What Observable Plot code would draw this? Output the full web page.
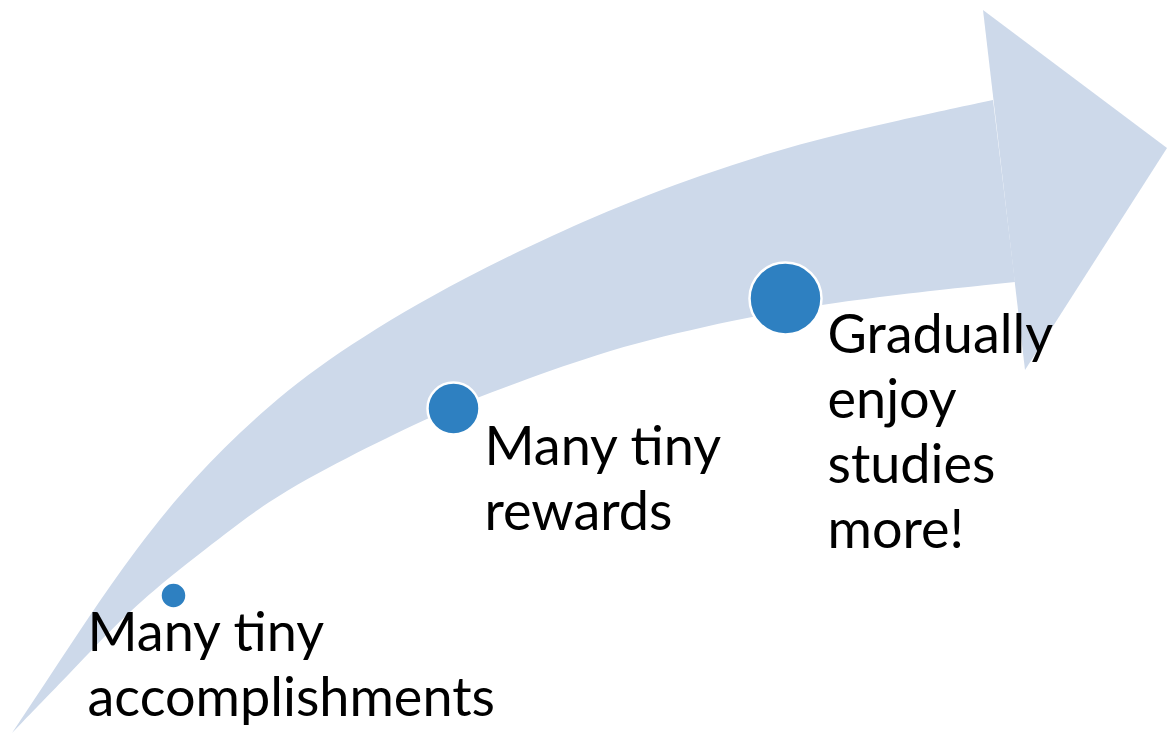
<!DOCTYPE html>
<html>
<head>
<meta charset="utf-8">
<script src="https://cdn.jsdelivr.net/npm/d3@7"></script>
<script src="https://cdn.jsdelivr.net/npm/@observablehq/plot@0.6"></script>
<style>
  html, body { margin: 0; padding: 0; background: #ffffff; }
  #chart svg { display: block; }
</style>
</head>
<body>
<div id="chart"></div>
<script>
// Arrow shaft: outer (upper) edge and inner (lower) edge, tail -> head
const outerX = [12, 50, 88, 135, 192, 269, 346, 461, 600, 700, 800, 900, 993];
const outerY = [733, 676, 618, 550, 479, 404, 346, 278, 213, 175, 143, 120, 100];
const innerX = [12, 77, 115, 161, 192, 269, 346, 427, 481, 600, 700, 827, 1015];
const innerY = [733, 666, 625, 584, 560, 499, 458, 418, 396, 352, 327, 302, 282];
// Arrow head triangle: base top, tip, base bottom
const headX = [983, 1167, 1025];
const headY = [10, 148, 370];
// Milestones
const stepX = [173, 453, 785];
const stepY = [595, 408, 298];
const stepR = [13, 26, 36];
const stepLabels = [
  "Many tiny\naccomplishments",
  "Many tiny\nrewards",
  "Gradually\nenjoy\nstudies\nmore!"
];
const labelX = [87, 484, 827];
const labelBaseline = [643, 457, 345];

const shaft = outerX.map((_, i) => ({x1: outerX[i], y1: outerY[i], x2: innerX[i], y2: innerY[i]}));
const head = [
  {x1: headX[0], y1: headY[0], x2: headX[2], y2: headY[2]},
  {x1: headX[1], y1: headY[1], x2: headX[1], y2: headY[1]}
];
const steps = stepX.map((x, i) => ({x, y: stepY[i], r: stepR[i]}));
const labels = stepLabels.map((t, i) => ({text: t, x: labelX[i], y: labelBaseline[i]}));

const FS = 54;
const ARROW = "#cdd9ea";
const DOT = "#2e80c1";

const chart = Plot.plot({
  width: 1167,
  height: 734,
  margin: 0,
  x: {domain: [0, 1167], range: [0, 1167], axis: null},
  y: {domain: [0, 734], range: [0, 734], axis: null},
  r: {type: "identity"},
  style: {background: "#ffffff", overflow: "visible"},
  marks: [
    Plot.area(shaft, {x1: "x1", y1: "y1", x2: "x2", y2: "y2", fill: ARROW, curve: "basis"}),
    Plot.area(head, {x1: "x1", y1: "y1", x2: "x2", y2: "y2", fill: ARROW, curve: "linear"}),
    Plot.dot(steps, {x: "x", y: "y", r: "r", fill: DOT, stroke: "#ffffff", strokeWidth: 2.5}),
    Plot.text(labels, {
      x: "x", y: "y", text: "text",
      textAnchor: "start", lineAnchor: "top",
      dy: -0.71 * FS,
      lineHeight: 65 / FS,
      fontSize: FS,
      fontFamily: "Lato, 'Open Sans', sans-serif",
      fill: "#000000"
    })
  ]
});
document.getElementById("chart").appendChild(chart);
</script>
</body>
</html>
